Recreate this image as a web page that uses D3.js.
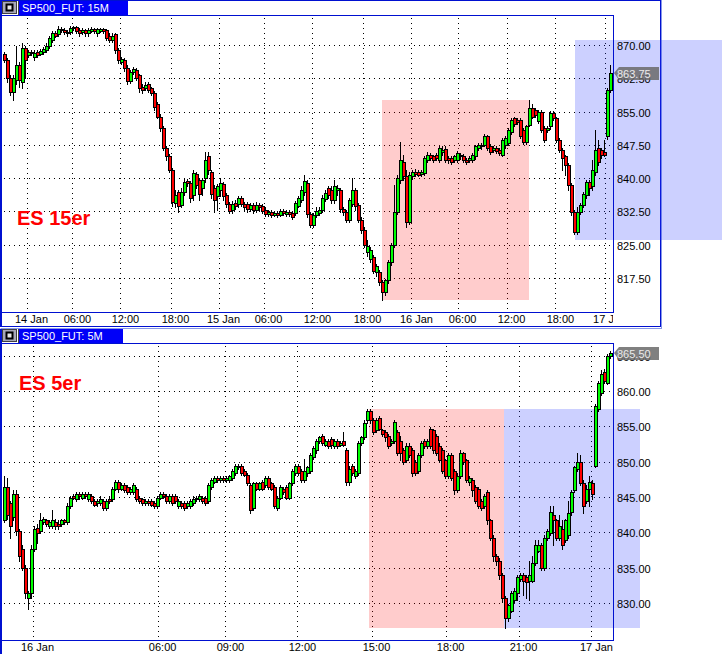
<!DOCTYPE html>
<html>
<head>
<meta charset="utf-8">
<script src="https://cdn.jsdelivr.net/npm/d3@7"></script>
<style>
  body { margin: 0; background: #fff; }
  svg { display: block; font-family: "Liberation Sans", Arial, sans-serif; }
</style>
</head>
<body>
<div id="chart"></div>
<script>
// ---- data: [open, high, low, close] per bar ----
const es15 = [
  [868,868.5,866.25,866.75],[866.75,867.25,861.75,862.75],[862.75,863.25,858.75,859.5],[859.5,863.25,857.75,862.75],
  [862.25,870,861.25,865.5],[865.5,866.25,860.75,862.25],[861.75,870.5,860.5,869.5],[869.5,870,862.75,866.75],
  [867.75,869,867.5,868.5],[868.5,869,867.75,868.25],[867.5,869,866.75,868.25],[868.5,869,867.5,867.75],
  [868,869.25,867.75,868.75],[868.5,869.75,868,869.25],[869,870.5,868.5,870],[870,872.25,869.5,871.75],
  [871.25,873.25,870.75,872.75],[872.75,873.25,872,872.25],[872.5,874.5,872.25,873.75],[873.75,874.25,873,873.5],
  [873.5,874,872.5,873],[873,873.5,872.25,872.75],[873,874.5,872.5,874],[874,874.5,873.5,874.25],
  [874.25,874.5,872.75,873.25],[873.5,874,872.25,872.75],[873,874,872.5,873.5],[873.5,873.75,872.25,872.75],
  [872.75,874,872.25,873.5],[873.25,874.25,873,873.75],[873.75,874,872.75,873.25],[872.75,874,872.25,873.75],
  [873.25,874,873,873.75],[873.75,874,872.75,873.25],[873.5,873.75,871.25,871.75],[872.25,872.75,870.75,871.25],
  [871.25,872.75,870.75,872.25],[872.5,872.75,868.25,869],[869,869.5,866,866.75],[866.25,867.5,865.75,867],
  [866.75,867.25,864.25,865],[865,865.5,861.25,862],[862,864.5,861.5,864],[864,865.25,863.5,864.75],
  [864.5,865,862.25,862.75],[863.25,863.5,859.5,860.5],[860.75,861.25,859.25,860],[860.5,861.75,860,861],
  [861.25,861.75,859.5,860],[860.5,860.75,858.75,859.25],[859.25,859.75,855.5,856.25],[856.75,857.25,853.75,854],
  [854,854.5,850.75,851.5],[851.5,851.75,846.5,847],[847,847.25,844.25,845],[845,845.5,841.5,842],
  [842,842.5,833.75,834.75],[834.5,837.5,833.5,836.25],[837,837.5,832.5,833.75],[834,838,833.5,837],
  [837,840.25,836.25,839.25],[839.5,840,838.25,839],[839,839.5,834.75,835.75],[836.25,842,835.25,841.25],
  [841,841.5,838,838.5],[839.75,840.25,835.25,836.5],[838,840.25,836.25,839.75],[840.25,846,839.25,844.25],
  [845,846,841,842],[841.5,842,835.75,836.5],[838,838.5,832.5,835.25],[836,838.75,833,838.25],
  [837.5,840.25,836,839],[838.75,839.25,835.25,836],[836.25,836.75,833.5,834.25],[834.25,834.75,832.25,832.75],
  [833,835,832.25,834.25],[834.5,835.25,833.25,833.75],[834.25,836,833.5,835.75],[835.75,836,833.75,834.25],
  [834.25,834.75,833,833.5],[834.25,834.75,832.5,833.25],[833.25,834.5,832.75,834],[834,834.5,832.25,833],
  [833,834.75,832.5,834],[834,834.5,833,833.5],[833.75,834.25,832.25,832.75],[833,833.5,831.5,832],
  [832,833,831.5,832.5],[832.5,833,831.25,831.75],[831.75,832.75,831.5,832.25],[832.25,832.75,831.25,831.75],
  [831.75,833.25,831.5,832.75],[832.75,833.25,831.75,832.25],[832,833,831.5,832.5],[832.5,833,831.5,832],
  [832.25,832.75,831,831.25],[832.25,835,831.75,834.5],[833.75,836,833.5,835.75],[835.25,838.25,834.75,837.5],
  [837,840.75,836.25,839.5],[839,839.75,831.25,832],[832,832.5,829,829.5],[829.5,832.25,829,831.75],
  [831.75,833.5,831.25,832.75],[832.25,833.5,831.75,833],[833,836.25,832.5,835.75],[835.5,837.5,835,836.75],
  [838,838.25,835.75,836.25],[837.5,838.25,834.5,835.25],[835.25,839.75,834.5,838.25],[837.5,838.5,836.25,838],
  [837.5,838,832.5,833.25],[833.25,833.5,831.75,832.5],[832.5,833,830.25,830.75],[830.75,835.75,830.25,835.25],
  [834.25,840.25,833.75,837.5],[837.5,838,833,833.75],[834,834.5,830.25,830.75],[830.75,831.25,827.75,828.5],
  [828.5,829,824.5,825],[823.5,826.25,822.5,824.75],[822,824.5,821.25,824],[822.25,822.75,818.75,819.25],
  [819,820.75,818,820.25],[819,819.5,816,816.75],[816.75,817.25,812.75,814.5],[814.5,817.5,813.75,817.25],
  [817.25,821.75,816.5,821.25],[821.25,825.5,820.5,825],[825,838.5,824.5,832.5],[832.5,840.75,832,840.25],
  [839.75,848.25,839,844.25],[843.75,845.25,839.75,840.5],[840.5,842,829,830.25],[830.25,841.5,829.75,840.75],
  [840.5,842,840,841.5],[841.5,842.25,840.5,841],[841.5,842,840.5,840.75],[841,842,840.5,841.5],
  [841.25,845,840.75,844.75],[844.25,846,843.75,845.25],[845.25,845.75,844.25,844.75],[845,845.25,843.75,844.25],
  [845.25,845.75,844.25,844.75],[844.25,847.25,843.75,847],[846,847.25,845.25,846.5],[846.75,847.25,843.75,844.25],
  [844.75,845,843.5,844.25],[844.75,845,843.25,843.75],[844.25,845.25,843.75,845],[844.25,846.25,843.75,845.75],
  [845.25,845.75,844.5,845],[845,845.5,843.75,844.25],[844.25,844.75,843.25,843.75],[844.25,845,843.75,844.75],
  [844.25,845.75,843.75,845.25],[845,847.5,844.5,847.25],[847,848,846.5,847.5],[847.5,848,846.75,847.25],
  [847.5,850,847.25,849.5],[849.5,849.75,846.5,847],[847.25,847.75,845.5,846],[846.5,847.25,846,847],
  [847,847.25,845.75,846.25],[846.5,847,845.25,845.75],[845.25,849.25,845,848.75],[847.5,849.5,847,849.25],
  [848,851.5,847.5,851],[850.5,853.75,850,853.25],[853.75,854,851.75,852.25],[853.25,853.75,852.25,852.75],
  [853.25,853.75,849.25,849.5],[851,851.5,847.75,848.25],[848.25,852,847.75,851.75],[852,857.75,851.75,856],
  [856,856.75,853.75,854],[855.5,856,854,854.25],[853,855.5,852.5,855],[855,855.5,850.5,851],
  [851.5,851.75,848.25,848.75],[851,851.75,850.5,851.5],[851.75,855.25,851.25,854.75],[854.75,855.25,853.25,853.75],
  [853.75,854,848.25,848.75],[848.75,849.25,846,846.5],[846.5,847,842,844.75],[845,845.25,840.75,843],
  [843,843.5,837.5,838.5],[838.5,839,831.75,832.5],[832.5,833,827.5,828],[828,833.5,827.5,832.5],
  [832.5,834.5,832,834],[834,837,833.5,836.5],[836.25,839.75,835.75,839.25],[839.25,839.75,836.25,838],
  [838.25,844.25,837.5,842],[841.5,851,840.75,846.5],[847,848.75,843,843.75],[846.5,847,844.75,845.25],
  [846,848.75,845,845.25],[849.5,860.5,849,860],[860,865.5,859.5,863.75]
];

const es5 = [
  [841.75,848,841.5,846.5],[846.5,847.75,842,842.5],[844.25,844.5,839.25,841],[842.25,846,841.75,845.5],
  [845.5,846,839.75,840.25],[840.25,840.5,836,836.75],[837.75,838.25,834.75,835],[835,835.5,830.75,831.5],
  [830.75,831.75,829.25,831.5],[831.5,838.25,830.75,837.75],[837.75,841,837.5,840.5],[840.75,841.25,838.5,840],
  [840.25,842.75,840,841.75],[841.5,842.25,841.25,842],[841.75,842,841,841.25],[841,841.75,840.75,841.5],
  [841,843.25,840.75,841.75],[841.5,842,840.5,841],[841.25,841.75,840.5,841],[841.25,842,841,841.75],
  [841.75,842,841.25,841.5],[841.5,844.25,841.25,843.75],[843.75,845.25,843.5,845],[845.25,845.5,844.75,845],
  [844.75,845.75,844.5,845.5],[845.5,845.75,844.75,845.25],[845,845.75,844.75,845.5],[845.5,845.75,845,845.25],
  [844.75,845.75,844.5,845.5],[845.25,845.5,844.25,844.5],[844.5,844.75,843.75,844],[844.25,844.75,843.75,844.5],
  [844.25,845.25,844,844.75],[844.5,844.75,843.25,843.5],[843.5,844.75,843.25,844.5],[844.75,845.25,844.25,844.5],
  [844.75,846.5,844.5,846.25],[846.25,847.5,846,847.25],[847.25,847.5,845.75,846.25],[846.25,847,846,846.75],
  [846.75,847,845.75,846],[846.5,846.75,845.5,845.75],[845.75,846.5,845.5,846.25],[845.75,847,845.5,846.75],
  [846.25,846.5,844.5,844.75],[845,845.25,844.25,844.5],[844.75,845,844,844.25],[844.25,844.75,844,844.5],
  [844.5,844.75,844,844.25],[844.5,844.75,843.75,844],[844.25,844.5,843.5,843.75],[843.75,845.25,843.5,845],
  [845,845.75,844.75,845.5],[845.5,845.75,845,845.25],[845.25,845.5,844.25,844.5],[844.5,845.5,844.25,845.25],
  [845.25,845.5,844,844.25],[845.25,845.5,844.25,844.5],[843.75,844.75,843.5,844.5],[844.25,844.5,843.5,843.75],
  [844.25,844.5,843.25,843.5],[843.75,844.5,843.5,844.25],[843.75,844.75,843.5,844.5],[844.25,845.25,844,844.75],
  [844.75,845.25,844.5,845],[844.75,845.5,844.5,845.25],[845,845.25,844.25,844.5],[845,845.25,844,844.25],
  [844.5,847,844.25,846.75],[846.5,847.75,846.25,847.5],[847.25,848,847,847.75],[847.75,848,847.25,847.5],
  [847.5,848,847.25,847.75],[847.75,848,847.25,847.5],[847.5,848,847.25,847.75],[847.5,848.25,847.25,848],
  [847.75,849,847.5,848.75],[848.5,849.75,848.25,849.5],[849.25,849.75,849,849.5],[849.5,849.75,848.25,848.5],
  [848.75,849,848,848.25],[848.25,848.5,846.75,847],[846.75,847,842.75,843.25],[843.5,847.25,843.25,847],
  [847,847.25,846,846.25],[846.25,847.25,846,847],[847.25,847.5,846,846.25],[846.75,848,846.5,847.75],
  [847.75,848,846.25,846.5],[847,847.25,846,846.25],[846.5,846.75,843.5,843.75],[843.5,845.25,843.25,845],
  [845,846.75,844.75,846.5],[846.25,846.5,845.5,845.75],[846.5,846.75,844.75,845],[845,847.25,844.75,847],
  [847,849,846.75,848.75],[848.5,849.75,848.25,849.5],[849.5,849.75,848.25,848.5],[848.75,849,847.25,847.5],
  [847.5,850.5,847.25,848.75],[848.5,849.5,848,849.25],[848.75,851.25,848.5,851],[850.75,852.25,850.5,852],
  [851.75,853.25,851.25,853],[853,853.75,852.75,853.5],[853.75,854,852.5,852.75],[852.5,853.25,852.25,853],
  [853,853.25,852,852.25],[853.25,853.5,852,852.5],[852.25,853.25,852,853],[853,853.25,852,852.25],
  [852.5,853,852.25,852.75],[853,854.25,852.25,852.5],[851.75,852,846.75,847.25],[847.25,849.5,846.75,849],
  [849.5,849.75,848.25,848.5],[848,849,847.75,848.75],[848.5,853,848.25,852.75],[852.75,853.75,852.5,853.5],
  [853.5,856,853.25,855.5],[856,857.5,855.5,857.25],[857.25,857.5,855.5,856],[856,856.25,854,854.25],
  [854.5,856.25,854.25,856],[856.25,856.5,854.5,854.75],[854.5,854.75,853.75,854],[854.25,854.5,853,853.5],
  [853.75,854,852,852.25],[852.75,853.25,852.5,853],[853,856,852.75,855.75],[854.25,854.5,851,851.25],
  [853,853.75,850.25,851.25],[851.75,852,849.75,850],[850.25,852.75,850,852.25],[852.25,852.75,850.75,851],
  [851.75,852,848,848.5],[850,850.25,848.25,848.5],[848.75,851.25,848.5,851],[851,853,850.75,852.75],
  [853,853.25,852,852.25],[852.25,853.25,852,853],[854.75,855,852,852.25],[854.5,854.75,851.25,851.75],
  [853.75,854,851,851.25],[852.25,852.75,850,850.25],[851.75,852,848.5,848.75],[850.25,850.5,847.75,848],
  [848,851.25,847.75,851],[851,851.25,847.5,847.75],[848.75,849,845.5,846],[846,848.5,845.75,848],
  [848,851.75,847.75,851.25],[851.25,851.5,849.75,850],[850.25,850.5,847.25,847.5],[847.25,848,846.75,847.75],
  [847.5,847.75,845.25,846],[846.5,846.75,844.25,844.5],[846.25,846.5,843.5,843.75],[844.5,844.75,843.25,843.5],
  [843.75,845.5,843.5,845.25],[845.75,846,841.25,841.75],[841.75,842,839,839.25],[839.25,839.75,836,836.75],
  [836.75,837,835.5,836],[836,836.5,833.5,834],[834,834.25,830.25,830.75],[830.75,831,826.5,828],
  [828,830,827.5,829.75],[829,831.75,828.75,831.5],[830.5,832.25,830.25,831.75],[831.5,834,830.5,833.75],
  [833.5,834.25,833.25,834],[834,834.25,831.25,833.25],[833.75,834,830.75,833],[833.25,836,830.5,834],
  [833.25,836.75,833,835.75],[835.75,839,835.5,838.25],[837.5,839,837.25,838.25],[838.25,838.5,834.75,835],
  [835,839.75,834.75,839.25],[839.25,840.5,839,840.25],[840,843.75,839.75,843],[842.5,843.75,838.25,841.75],
  [841.75,842,839,839.25],[839.25,842.5,839,841],[840.5,841.75,837.75,838.25],[839,842,838.75,841.75],
  [839.75,844.5,839.25,842.75],[843,846,842.5,845.75],[846,849.5,845.75,849.25],[849,851.25,848.75,850],
  [850,851,846.75,847],[847,847.5,842.75,843.75],[844.5,846.75,844.25,846.25],[846.25,848,843.75,847.25],
  [847,847.5,844.75,845.5],[849.5,858.25,849.25,858],[857.5,861.5,857.25,861.25],[859.75,863,859.5,862.5],
  [862.75,863.25,861.25,861.5],[861.25,865.25,861,865],[865,865.75,864.75,865.5]
];

// axis ticks (x positions are bar indices)
const ticks15 = [7.5, 22.8, 38.8, 55.5, 71.5, 86.5, 102.8, 119.5, 135.8, 151.2, 167.5, 183.8, 200.2];
const tickLabels15 = ["14 Jan", "06:00", "12:00", "18:00", "15 Jan", "06:00", "12:00", "18:00", "16 Jan", "06:00", "12:00", "18:00", "17 Jan"];
const ticks5 = [9.5, 51.2, 73.8, 97.8, 122.5, 147.2, 171.5, 195.8];
const tickLabels5 = ["16 Jan", "06:00", "09:00", "12:00", "15:00", "18:00", "21:00", "17 Jan"];
const prices15 = [817.5, 825, 832.5, 840, 847.5, 855, 862.5, 870];
const prices5 = [830, 835, 840, 845, 850, 855, 860, 865];

// shaded zones: bar-index span and price span
const zones15 = [
  { from: 125.8, to: 174.8, lo: 812.75, hi: 857.75, kind: "sell" },
  { from: 190.2, to: 239.2, lo: 826.25, hi: 871.25, kind: "buy" }
];
const zones5 = [
  { from: 121.5, to: 166.5, lo: 826.5, hi: 857.5, kind: "sell" },
  { from: 166.5, to: 211.8, lo: 826.5, hi: 857.5, kind: "buy" }
];
const last15 = 863.75;
const last5 = 865.5;

const W = 722, H = 654;
const BLUE = "#0010d0";
const TAB = "#0000f8";
const zoneFill = { sell: "rgba(255,0,0,0.2)", buy: "rgba(40,60,255,0.24)" };

const svg = d3.select("#chart").append("svg")
  .attr("width", W).attr("height", H);

function crisp(v) { return Math.round(v - 0.5) + 0.5; }

function drawHeader(y, title, tabW) {
  const g = svg.append("g");
  g.append("rect").attr("x", 2.5).attr("y", y + 0.5).attr("width", 14).attr("height", 12)
    .attr("fill", "#a8a8b8").attr("stroke", "#404040");
  g.append("rect").attr("x", 6.5).attr("y", y + 3.5).attr("width", 6).attr("height", 6)
    .attr("fill", "#e8e8e8").attr("stroke", "#000").attr("stroke-width", 2);
  g.append("line").attr("x1", 18.5).attr("x2", 18.5).attr("y1", y).attr("y2", y + 14)
    .attr("stroke", "#404040");
  g.append("rect").attr("x", 19).attr("y", y).attr("width", tabW).attr("height", 14)
    .attr("fill", TAB);
  g.append("text").attr("x", 22).attr("y", y + 11).attr("fill", "#fff")
    .attr("font-size", 11).text(title);
}

function drawPanel(cfg) {
  const { bars, y0, y1, id } = cfg;
  const px0 = 2, px1 = 613;
  const x = d3.scaleLinear().domain([0, bars.length - 1]).range([4.5, 4.5 + 3 * (bars.length - 1)]);
  const y = d3.scaleLinear().domain(cfg.yDomain).range(cfg.yRange);

  const g = svg.append("g");

  svg.append("clipPath").attr("id", "plot" + id)
    .append("rect").attr("x", px0).attr("y", y0).attr("width", px1 - px0).attr("height", y1 - y0);
  svg.append("clipPath").attr("id", "tax" + id)
    .append("rect").attr("x", 0).attr("y", y1 + 1).attr("width", px1).attr("height", 16);

  // grid
  const grid = g.append("g").attr("clip-path", `url(#plot${id})`)
    .attr("stroke", "#000").attr("stroke-dasharray", "1,4").attr("stroke-width", 1);
  grid.selectAll("line.h").data(cfg.prices).enter().append("line")
    .attr("x1", px0 + 2).attr("x2", px1)
    .attr("y1", d => crisp(y(d))).attr("y2", d => crisp(y(d)));
  grid.selectAll("line.v").data(cfg.ticks).enter().append("line")
    .attr("x1", d => crisp(x(d))).attr("x2", d => crisp(x(d)))
    .attr("y1", y0 + 3).attr("y2", y1);

  // zones
  g.append("g").selectAll("rect").data(cfg.zones).enter().append("rect")
    .attr("x", d => Math.round(x(d.from)))
    .attr("width", d => Math.round(x(d.to)) - Math.round(x(d.from)))
    .attr("y", d => Math.round(y(d.hi)))
    .attr("height", d => Math.round(y(d.lo)) - Math.round(y(d.hi)))
    .attr("fill", d => zoneFill[d.kind]);

  // candles
  const cg = g.append("g").attr("clip-path", `url(#plot${id})`)
    .attr("shape-rendering", "crispEdges");
  const candle = cg.selectAll("g").data(bars).enter().append("g");
  candle.append("line")
    .attr("x1", (d, i) => x(i)).attr("x2", (d, i) => x(i))
    .attr("y1", d => Math.round(y(d[1]))).attr("y2", d => Math.round(y(d[2])) + 1)
    .attr("stroke", "#000");
  candle.append("rect")
    .attr("x", (d, i) => x(i) - 1)
    .attr("width", 3)
    .attr("y", d => Math.round(y(Math.max(d[0], d[3]))) + 0.5)
    .attr("height", d => Math.max(1, Math.round(y(Math.min(d[0], d[3]))) - Math.round(y(Math.max(d[0], d[3])))))
    .attr("fill", d => d[3] >= d[0] ? "#00ff00" : "#ff0000")
    .attr("stroke", "#000");

  // price axis
  const ya = g.append("g").attr("transform", `translate(${px1},0)`)
    .call(d3.axisRight(y).tickValues(cfg.prices).tickFormat(d3.format(".2f")).tickSize(0).tickPadding(4));
  ya.select(".domain").remove();
  ya.selectAll("text").attr("font-size", 11).attr("font-family", "Liberation Sans, Arial, sans-serif")
    .attr("fill", "#000").attr("dy", "0.36em");

  // time axis
  const xa = g.append("g").attr("clip-path", `url(#tax${id})`)
    .append("g").attr("transform", `translate(4,${y1})`)
    .call(d3.axisBottom(x).tickValues(cfg.ticks).tickFormat((d, i) => cfg.tickLabels[i]).tickSize(0).tickPadding(3));
  xa.select(".domain").remove();
  xa.selectAll("text").attr("font-size", 11).attr("font-family", "Liberation Sans, Arial, sans-serif")
    .attr("fill", "#000");

  // plot border
  const b = g.append("g").attr("stroke", BLUE).attr("fill", "none");
  b.append("line").attr("x1", 0).attr("x2", px1 + 1).attr("y1", y0 + 0.5).attr("y2", y0 + 0.5);
  b.append("line").attr("x1", 0).attr("x2", px1 + 1).attr("y1", y1 + 0.5).attr("y2", y1 + 0.5);
  b.append("line").attr("x1", px1 + 0.5).attr("x2", px1 + 0.5).attr("y1", y0).attr("y2", y1 + 1);

  // last price marker
  const ly = Math.round(y(cfg.last));
  g.append("path")
    .attr("d", `M${px1 + 1},${ly} L${px1 + 6},${ly - 6} L659,${ly - 6} L659,${ly + 7} L${px1 + 6},${ly + 7} Z`)
    .attr("fill", "#6a6a6a").attr("fill-opacity", 0.85);
  g.append("text").attr("x", px1 + 4).attr("y", ly + 4.5)
    .attr("font-size", 11).attr("fill", "#ececec").text(d3.format(".2f")(cfg.last));

  // big label
  g.append("text").attr("x", cfg.labelX).attr("y", cfg.labelY)
    .attr("font-size", 20).attr("font-weight", "bold").attr("fill", "#ff0000")
    .text(cfg.label);
}

// outer frame of the upper window
svg.append("rect").attr("x", 0.5).attr("y", 0.5).attr("width", 660).attr("height", 326)
  .attr("fill", "none").attr("stroke", BLUE);
svg.append("line").attr("x1", 0.5).attr("x2", 661).attr("y1", 328.5).attr("y2", 328.5)
  .attr("stroke", "#8898e8");
svg.append("line").attr("x1", 661.5).attr("x2", 661.5).attr("y1", 0).attr("y2", 329)
  .attr("stroke", "#8898e8");

drawPanel({
  id: 15, bars: es15, y0: 15, y1: 312,
  yDomain: [817.5, 870], yRange: [278.5, 45.5],
  prices: prices15, ticks: ticks15, tickLabels: tickLabels15,
  zones: zones15, last: last15, label: "ES 15er", labelX: 17, labelY: 225
});
drawPanel({
  id: 5, bars: es5, y0: 343, y1: 640,
  yDomain: [830, 860], yRange: [603.5, 391.5],
  prices: prices5, ticks: ticks5, tickLabels: tickLabels5,
  zones: zones5, last: last5, label: "ES 5er", labelX: 19, labelY: 390
});

// left window edges
svg.append("line").attr("x1", 1).attr("x2", 1).attr("y1", 0).attr("y2", 327)
  .attr("stroke", BLUE).attr("stroke-width", 2);
svg.append("line").attr("x1", 1).attr("x2", 1).attr("y1", 329).attr("y2", H)
  .attr("stroke", BLUE).attr("stroke-width", 2);

drawHeader(1, "SP500_FUT: 15M", 109);
drawHeader(329, "SP500_FUT: 5M", 104);
</script>
</body>
</html>
